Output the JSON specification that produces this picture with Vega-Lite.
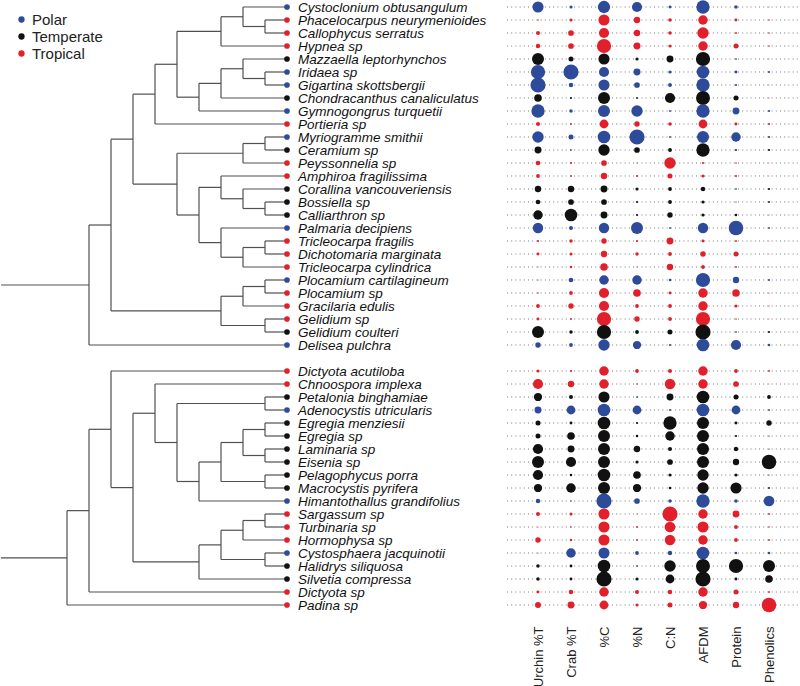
{
"$schema": "https://vega.github.io/schema/vega-lite/v6.json",
"background": "white",
"padding": 0,
"spacing": 0,
"config": {"view": {"stroke": null}, "font": "Liberation Sans"},
"resolve": {"scale": {"color": "independent", "y": "independent"}},
"datasets": {
"species": [
{"name":"Cystoclonium obtusangulum","region":"Polar","row":0,"Urchin %T":11.7,"Crab %T":3.3,"%C":13,"%N":10.7,"C:N":3,"AFDM":14,"Protein":3.7,"Phenolics":1},
{"name":"Phacelocarpus neurymenioides","region":"Tropical","row":1,"Urchin %T":1.7,"Crab %T":3.3,"%C":11.7,"%N":6.7,"C:N":3.7,"AFDM":10,"Protein":3,"Phenolics":1.7},
{"name":"Callophycus serratus","region":"Tropical","row":2,"Urchin %T":4.3,"Crab %T":6,"%C":10.7,"%N":6.7,"C:N":3.7,"AFDM":12,"Protein":2,"Phenolics":1.7},
{"name":"Hypnea sp","region":"Tropical","row":3,"Urchin %T":4.7,"Crab %T":6,"%C":15,"%N":7.3,"C:N":3.3,"AFDM":10,"Protein":5.3,"Phenolics":1.7},
{"name":"Mazzaella leptorhynchos","region":"Temperate","row":4,"Urchin %T":12.7,"Crab %T":5.3,"%C":11.7,"%N":3.3,"C:N":7.3,"AFDM":15,"Protein":1.7,"Phenolics":1},
{"name":"Iridaea sp","region":"Polar","row":5,"Urchin %T":15,"Crab %T":16,"%C":10.7,"%N":7.3,"C:N":3.3,"AFDM":13.3,"Protein":3,"Phenolics":2.3},
{"name":"Gigartina skottsbergii","region":"Polar","row":6,"Urchin %T":16,"Crab %T":4.7,"%C":11.7,"%N":6,"C:N":4,"AFDM":14,"Protein":2.3,"Phenolics":1},
{"name":"Chondracanthus canaliculatus","region":"Temperate","row":7,"Urchin %T":8,"Crab %T":2.3,"%C":12.7,"%N":2,"C:N":10.7,"AFDM":14.7,"Protein":5.3,"Phenolics":1},
{"name":"Gymnogongrus turquetii","region":"Polar","row":8,"Urchin %T":14,"Crab %T":3.7,"%C":12.7,"%N":12,"C:N":2,"AFDM":14,"Protein":7.3,"Phenolics":2.3},
{"name":"Portieria sp","region":"Tropical","row":9,"Urchin %T":4.3,"Crab %T":2,"%C":9.3,"%N":5.7,"C:N":3.7,"AFDM":9.3,"Protein":3,"Phenolics":2.3},
{"name":"Myriogramme smithii","region":"Polar","row":10,"Urchin %T":12,"Crab %T":5.3,"%C":13.3,"%N":16,"C:N":2,"AFDM":12.7,"Protein":10,"Phenolics":2.3},
{"name":"Ceramium sp","region":"Temperate","row":11,"Urchin %T":7.3,"Crab %T":1.7,"%C":12,"%N":6,"C:N":4,"AFDM":14,"Protein":2,"Phenolics":2.3},
{"name":"Peyssonnelia sp","region":"Tropical","row":12,"Urchin %T":5,"Crab %T":2.3,"%C":6,"%N":1.3,"C:N":12,"AFDM":2.3,"Protein":1.7,"Phenolics":1},
{"name":"Amphiroa fragilissima","region":"Tropical","row":13,"Urchin %T":4,"Crab %T":2,"%C":6.7,"%N":2.3,"C:N":5.3,"AFDM":3.3,"Protein":2.3,"Phenolics":1},
{"name":"Corallina vancouveriensis","region":"Temperate","row":14,"Urchin %T":6.7,"Crab %T":6.7,"%C":7.3,"%N":3.3,"C:N":4,"AFDM":4.7,"Protein":1.7,"Phenolics":2.3},
{"name":"Bossiella sp","region":"Temperate","row":15,"Urchin %T":5,"Crab %T":6,"%C":6,"%N":2.3,"C:N":4,"AFDM":3.3,"Protein":1.3,"Phenolics":2},
{"name":"Calliarthron sp","region":"Temperate","row":16,"Urchin %T":10,"Crab %T":13.3,"%C":7.3,"%N":2.3,"C:N":5.7,"AFDM":3.3,"Protein":2.7,"Phenolics":1},
{"name":"Palmaria decipiens","region":"Polar","row":17,"Urchin %T":11,"Crab %T":4.3,"%C":11,"%N":12.7,"C:N":2,"AFDM":11,"Protein":15.3,"Phenolics":2},
{"name":"Tricleocarpa fragilis","region":"Tropical","row":18,"Urchin %T":2.3,"Crab %T":3.7,"%C":5.7,"%N":2.3,"C:N":7.3,"AFDM":3,"Protein":2,"Phenolics":1},
{"name":"Dichotomaria marginata","region":"Tropical","row":19,"Urchin %T":3,"Crab %T":3.3,"%C":6.7,"%N":3.7,"C:N":4,"AFDM":5.7,"Protein":5.3,"Phenolics":1},
{"name":"Tricleocarpa cylindrica","region":"Tropical","row":20,"Urchin %T":1.3,"Crab %T":2.7,"%C":8,"%N":1.3,"C:N":6.7,"AFDM":4,"Protein":2,"Phenolics":1},
{"name":"Plocamium cartilagineum","region":"Polar","row":21,"Urchin %T":1.3,"Crab %T":5,"%C":10,"%N":10,"C:N":2.7,"AFDM":15,"Protein":6.7,"Phenolics":2.3},
{"name":"Plocamium sp","region":"Tropical","row":22,"Urchin %T":1.7,"Crab %T":4,"%C":10.7,"%N":8,"C:N":3,"AFDM":10,"Protein":8,"Phenolics":1.3},
{"name":"Gracilaria edulis","region":"Tropical","row":23,"Urchin %T":4,"Crab %T":5.7,"%C":10.7,"%N":4,"C:N":4,"AFDM":10,"Protein":3.3,"Phenolics":1.3},
{"name":"Gelidium sp","region":"Tropical","row":24,"Urchin %T":3,"Crab %T":2,"%C":15,"%N":5.7,"C:N":4,"AFDM":15,"Protein":1.7,"Phenolics":1},
{"name":"Gelidium coulteri","region":"Temperate","row":25,"Urchin %T":12.7,"Crab %T":3.7,"%C":15,"%N":4,"C:N":5.3,"AFDM":16,"Protein":1.7,"Phenolics":2.3},
{"name":"Delisea pulchra","region":"Polar","row":26,"Urchin %T":5.7,"Crab %T":4,"%C":12,"%N":8.7,"C:N":2.3,"AFDM":13.3,"Protein":10.7,"Phenolics":2.7},
{"name":"Dictyota acutiloba","region":"Tropical","row":28,"Urchin %T":3.3,"Crab %T":2.3,"%C":10,"%N":4,"C:N":4.3,"AFDM":10,"Protein":4,"Phenolics":2},
{"name":"Chnoospora implexa","region":"Tropical","row":29,"Urchin %T":10.7,"Crab %T":6.7,"%C":10,"%N":1.7,"C:N":11,"AFDM":10,"Protein":6,"Phenolics":1},
{"name":"Petalonia binghamiae","region":"Temperate","row":30,"Urchin %T":8.7,"Crab %T":4.3,"%C":11.7,"%N":1.7,"C:N":7.3,"AFDM":13.3,"Protein":5.3,"Phenolics":4},
{"name":"Adenocystis utricularis","region":"Polar","row":31,"Urchin %T":7.3,"Crab %T":9.3,"%C":13.3,"%N":9.3,"C:N":2.3,"AFDM":13.3,"Protein":9.3,"Phenolics":2},
{"name":"Egregia menziesii","region":"Temperate","row":32,"Urchin %T":5.3,"Crab %T":3,"%C":13.3,"%N":2.3,"C:N":14,"AFDM":12.7,"Protein":3,"Phenolics":5.7},
{"name":"Egregia sp","region":"Temperate","row":33,"Urchin %T":5.3,"Crab %T":8,"%C":12.7,"%N":2.7,"C:N":10,"AFDM":12.7,"Protein":2.3,"Phenolics":1.3},
{"name":"Laminaria sp","region":"Temperate","row":34,"Urchin %T":10.7,"Crab %T":7.3,"%C":12.7,"%N":6.7,"C:N":4.3,"AFDM":12.7,"Protein":4.7,"Phenolics":1.3},
{"name":"Eisenia sp","region":"Temperate","row":35,"Urchin %T":12.7,"Crab %T":10.7,"%C":12.7,"%N":3.3,"C:N":6,"AFDM":12.7,"Protein":6.7,"Phenolics":15.3},
{"name":"Pelagophycus porra","region":"Temperate","row":36,"Urchin %T":10.7,"Crab %T":2.7,"%C":13.3,"%N":8,"C:N":3.3,"AFDM":12,"Protein":3.3,"Phenolics":1.3},
{"name":"Macrocystis pyrifera","region":"Temperate","row":37,"Urchin %T":8.7,"Crab %T":10,"%C":12.7,"%N":8.7,"C:N":2.7,"AFDM":12,"Protein":11.7,"Phenolics":2},
{"name":"Himantothallus grandifolius","region":"Polar","row":38,"Urchin %T":4.7,"Crab %T":1.7,"%C":16,"%N":6,"C:N":3.7,"AFDM":14,"Protein":3.7,"Phenolics":11.3},
{"name":"Sargassum sp","region":"Tropical","row":39,"Urchin %T":4.3,"Crab %T":3.3,"%C":11.7,"%N":1.3,"C:N":16,"AFDM":10,"Protein":7.3,"Phenolics":2},
{"name":"Turbinaria sp","region":"Tropical","row":40,"Urchin %T":1.3,"Crab %T":1.7,"%C":11.7,"%N":2,"C:N":11.3,"AFDM":11.7,"Protein":4,"Phenolics":1.7},
{"name":"Hormophysa sp","region":"Tropical","row":41,"Urchin %T":5.7,"Crab %T":2.7,"%C":11.7,"%N":2,"C:N":11,"AFDM":10,"Protein":4,"Phenolics":2},
{"name":"Cystosphaera jacquinotii","region":"Polar","row":42,"Urchin %T":1.3,"Crab %T":10,"%C":11.7,"%N":4,"C:N":4.7,"AFDM":13.3,"Protein":2.7,"Phenolics":2.7},
{"name":"Halidrys siliquosa","region":"Temperate","row":43,"Urchin %T":3.7,"Crab %T":3,"%C":13.3,"%N":1.7,"C:N":12,"AFDM":14.7,"Protein":15,"Phenolics":12.7},
{"name":"Silvetia compressa","region":"Temperate","row":44,"Urchin %T":3.7,"Crab %T":3,"%C":16,"%N":3.3,"C:N":9.3,"AFDM":16,"Protein":3,"Phenolics":8},
{"name":"Dictyota sp","region":"Tropical","row":45,"Urchin %T":3,"Crab %T":4.7,"%C":10,"%N":4.3,"C:N":4.7,"AFDM":10,"Protein":5.3,"Phenolics":2},
{"name":"Padina sp","region":"Tropical","row":46,"Urchin %T":6.3,"Crab %T":7.3,"%C":9.3,"%N":3.3,"C:N":5.3,"AFDM":8.7,"Protein":6.7,"Phenolics":15.3}
],
"tree": [
{"x0":8,"x1":8,"y0":1,"y1":2},{"x0":8,"x1":9,"y0":1,"y1":1},{"x0":8,"x1":9,"y0":2,"y1":2},
{"x0":7,"x1":7,"y0":0,"y1":1.5},{"x0":7,"x1":9,"y0":0,"y1":0},{"x0":7,"x1":8,"y0":1.5,"y1":1.5},
{"x0":6,"x1":6,"y0":0.75,"y1":3},{"x0":6,"x1":7,"y0":0.75,"y1":0.75},{"x0":6,"x1":9,"y0":3,"y1":3},
{"x0":8,"x1":8,"y0":5,"y1":6},{"x0":8,"x1":9,"y0":5,"y1":5},{"x0":8,"x1":9,"y0":6,"y1":6},
{"x0":7,"x1":7,"y0":4,"y1":5.5},{"x0":7,"x1":9,"y0":4,"y1":4},{"x0":7,"x1":8,"y0":5.5,"y1":5.5},
{"x0":6,"x1":6,"y0":4.75,"y1":7},{"x0":6,"x1":7,"y0":4.75,"y1":4.75},{"x0":6,"x1":9,"y0":7,"y1":7},
{"x0":5,"x1":5,"y0":5.875,"y1":8},{"x0":5,"x1":6,"y0":5.875,"y1":5.875},{"x0":5,"x1":9,"y0":8,"y1":8},
{"x0":4,"x1":4,"y0":1.875,"y1":6.9375},{"x0":4,"x1":6,"y0":1.875,"y1":1.875},{"x0":4,"x1":5,"y0":6.9375,"y1":6.9375},
{"x0":3,"x1":3,"y0":4.406,"y1":9},{"x0":3,"x1":4,"y0":4.406,"y1":4.406},{"x0":3,"x1":9,"y0":9,"y1":9},
{"x0":8,"x1":8,"y0":10,"y1":11},{"x0":8,"x1":9,"y0":10,"y1":10},{"x0":8,"x1":9,"y0":11,"y1":11},
{"x0":7,"x1":7,"y0":10.5,"y1":12},{"x0":7,"x1":8,"y0":10.5,"y1":10.5},{"x0":7,"x1":9,"y0":12,"y1":12},
{"x0":8,"x1":8,"y0":15,"y1":16},{"x0":8,"x1":9,"y0":15,"y1":15},{"x0":8,"x1":9,"y0":16,"y1":16},
{"x0":7,"x1":7,"y0":14,"y1":15.5},{"x0":7,"x1":9,"y0":14,"y1":14},{"x0":7,"x1":8,"y0":15.5,"y1":15.5},
{"x0":6,"x1":6,"y0":13,"y1":14.75},{"x0":6,"x1":9,"y0":13,"y1":13},{"x0":6,"x1":7,"y0":14.75,"y1":14.75},
{"x0":8,"x1":8,"y0":18,"y1":19},{"x0":8,"x1":9,"y0":18,"y1":18},{"x0":8,"x1":9,"y0":19,"y1":19},
{"x0":7,"x1":7,"y0":18.5,"y1":20},{"x0":7,"x1":8,"y0":18.5,"y1":18.5},{"x0":7,"x1":9,"y0":20,"y1":20},
{"x0":6,"x1":6,"y0":17,"y1":19.25},{"x0":6,"x1":9,"y0":17,"y1":17},{"x0":6,"x1":7,"y0":19.25,"y1":19.25},
{"x0":5,"x1":5,"y0":13.875,"y1":18.125},{"x0":5,"x1":6,"y0":13.875,"y1":13.875},{"x0":5,"x1":6,"y0":18.125,"y1":18.125},
{"x0":4,"x1":4,"y0":11.25,"y1":16},{"x0":4,"x1":7,"y0":11.25,"y1":11.25},{"x0":4,"x1":5,"y0":16,"y1":16},
{"x0":2,"x1":2,"y0":6.703,"y1":13.625},{"x0":2,"x1":3,"y0":6.703,"y1":6.703},{"x0":2,"x1":4,"y0":13.625,"y1":13.625},
{"x0":8,"x1":8,"y0":21,"y1":22},{"x0":8,"x1":9,"y0":21,"y1":21},{"x0":8,"x1":9,"y0":22,"y1":22},
{"x0":7,"x1":7,"y0":21.5,"y1":23},{"x0":7,"x1":8,"y0":21.5,"y1":21.5},{"x0":7,"x1":9,"y0":23,"y1":23},
{"x0":8,"x1":8,"y0":24,"y1":25},{"x0":8,"x1":9,"y0":24,"y1":24},{"x0":8,"x1":9,"y0":25,"y1":25},
{"x0":6,"x1":6,"y0":22.25,"y1":24.5},{"x0":6,"x1":7,"y0":22.25,"y1":22.25},{"x0":6,"x1":8,"y0":24.5,"y1":24.5},
{"x0":1,"x1":1,"y0":10.164,"y1":23.375},{"x0":1,"x1":2,"y0":10.164,"y1":10.164},{"x0":1,"x1":6,"y0":23.375,"y1":23.375},
{"x0":0,"x1":0,"y0":16.77,"y1":26},{"x0":0,"x1":1,"y0":16.77,"y1":16.77},{"x0":0,"x1":9,"y0":26,"y1":26},
{"x0":-4,"x1":0,"y0":21.385,"y1":21.385},
{"x0":8,"x1":8,"y0":30,"y1":31},{"x0":8,"x1":9,"y0":30,"y1":30},{"x0":8,"x1":9,"y0":31,"y1":31},
{"x0":8,"x1":8,"y0":32,"y1":33},{"x0":8,"x1":9,"y0":32,"y1":32},{"x0":8,"x1":9,"y0":33,"y1":33},
{"x0":8,"x1":8,"y0":34,"y1":35},{"x0":8,"x1":9,"y0":34,"y1":34},{"x0":8,"x1":9,"y0":35,"y1":35},
{"x0":7,"x1":7,"y0":32.5,"y1":34.5},{"x0":7,"x1":8,"y0":32.5,"y1":32.5},{"x0":7,"x1":8,"y0":34.5,"y1":34.5},
{"x0":8,"x1":8,"y0":36,"y1":37},{"x0":8,"x1":9,"y0":36,"y1":36},{"x0":8,"x1":9,"y0":37,"y1":37},
{"x0":6,"x1":6,"y0":33.5,"y1":36.5},{"x0":6,"x1":7,"y0":33.5,"y1":33.5},{"x0":6,"x1":8,"y0":36.5,"y1":36.5},
{"x0":5,"x1":5,"y0":35,"y1":38},{"x0":5,"x1":6,"y0":35,"y1":35},{"x0":5,"x1":9,"y0":38,"y1":38},
{"x0":4,"x1":4,"y0":30.5,"y1":36.5},{"x0":4,"x1":8,"y0":30.5,"y1":30.5},{"x0":4,"x1":5,"y0":36.5,"y1":36.5},
{"x0":3,"x1":3,"y0":29,"y1":33.5},{"x0":3,"x1":9,"y0":29,"y1":29},{"x0":3,"x1":4,"y0":33.5,"y1":33.5},
{"x0":8,"x1":8,"y0":39,"y1":40},{"x0":8,"x1":9,"y0":39,"y1":39},{"x0":8,"x1":9,"y0":40,"y1":40},
{"x0":7,"x1":7,"y0":39.5,"y1":41},{"x0":7,"x1":8,"y0":39.5,"y1":39.5},{"x0":7,"x1":9,"y0":41,"y1":41},
{"x0":8,"x1":8,"y0":42,"y1":43},{"x0":8,"x1":9,"y0":42,"y1":42},{"x0":8,"x1":9,"y0":43,"y1":43},
{"x0":6,"x1":6,"y0":40.25,"y1":42.5},{"x0":6,"x1":7,"y0":40.25,"y1":40.25},{"x0":6,"x1":8,"y0":42.5,"y1":42.5},
{"x0":5,"x1":5,"y0":41.375,"y1":44},{"x0":5,"x1":6,"y0":41.375,"y1":41.375},{"x0":5,"x1":9,"y0":44,"y1":44},
{"x0":2,"x1":2,"y0":31.25,"y1":42.688},{"x0":2,"x1":3,"y0":31.25,"y1":31.25},{"x0":2,"x1":5,"y0":42.688,"y1":42.688},
{"x0":1,"x1":1,"y0":28,"y1":36.969},{"x0":1,"x1":9,"y0":28,"y1":28},{"x0":1,"x1":2,"y0":36.969,"y1":36.969},
{"x0":0,"x1":0,"y0":32.484,"y1":45},{"x0":0,"x1":1,"y0":32.484,"y1":32.484},{"x0":0,"x1":9,"y0":45,"y1":45},
{"x0":-1,"x1":-1,"y0":38.742,"y1":46},{"x0":-1,"x1":0,"y0":38.742,"y1":38.742},{"x0":-1,"x1":9,"y0":46,"y1":46},
{"x0":-4,"x1":-1,"y0":42.371,"y1":42.371}
]
},
"hconcat": [
{
"width": 503,
"height": 610,
"layer": [
{"data": {"name": "tree"},
 "mark": {"type": "rule", "color": "#505050", "strokeWidth": 1.2},
 "encoding": {
  "x": {"field": "x0", "type": "quantitative", "scale": {"domain": [-4, 18.864], "nice": false, "zero": false}, "axis": null},
  "x2": {"field": "x1"},
  "y": {"field": "y0", "type": "quantitative", "scale": {"domain": [-0.4615, 46.4615], "nice": false, "zero": false, "reverse": true}, "axis": null},
  "y2": {"field": "y1"}
 }},
{"data": {"name": "species"},
 "mark": {"type": "point", "filled": true, "size": 32, "opacity": 1},
 "encoding": {
  "x": {"datum": 9, "type": "quantitative"},
  "y": {"field": "row", "type": "quantitative"},
  "color": {"field": "region", "type": "nominal",
   "scale": {"domain": ["Polar", "Temperate", "Tropical"], "range": ["#2E4A9B", "#111111", "#E2202B"]},
   "legend": {"title": null, "orient": "none", "legendX": 13, "legendY": 11, "padding": 0, "symbolType": "circle", "symbolSize": 40, "symbolStrokeWidth": 0, "labelFontSize": 15, "labelColor": "#222222", "labelOffset": 3, "rowPadding": 1, "labelFont": "Liberation Sans"}}
 }},
{"data": {"name": "species"},
 "mark": {"type": "text", "align": "left", "baseline": "middle", "dx": 11, "dy": 1, "fontSize": 13.5, "fontStyle": "italic", "color": "#111111", "font": "Liberation Sans"},
 "encoding": {
  "x": {"datum": 9, "type": "quantitative"},
  "y": {"field": "row", "type": "quantitative"},
  "text": {"field": "name"}
 }}
]
},
{
"width": 297,
"height": 610,
"data": {"name": "species"},
"layer": [
{"mark": {"type": "rule", "color": "#7a7a7a", "strokeDash": [1, 3.2], "strokeWidth": 1},
 "encoding": {
  "y": {"field": "row", "type": "quantitative", "scale": {"domain": [-0.4615, 46.4615], "nice": false, "zero": false, "reverse": true}, "axis": null}
 }},
{"transform": [{"fold": ["Urchin %T", "Crab %T", "%C", "%N", "C:N", "AFDM", "Protein", "Phenolics"], "as": ["trait", "value"]}],
 "mark": {"type": "circle", "opacity": 1},
 "encoding": {
  "x": {"field": "trait", "type": "nominal", "sort": ["Urchin %T", "Crab %T", "%C", "%N", "C:N", "AFDM", "Protein", "Phenolics"],
   "scale": {"type": "point", "padding": 1},
   "axis": {"title": null, "labelAngle": -90, "ticks": false, "domain": false, "grid": false, "labelPadding": 15, "labelFontSize": 13, "labelColor": "#222222", "labelFont": "Liberation Sans"}},
  "y": {"field": "row", "type": "quantitative"},
  "size": {"field": "value", "type": "quantitative", "scale": {"type": "pow", "exponent": 2, "domain": [0, 16], "range": [0, 230]}, "legend": null},
  "color": {"field": "region", "type": "nominal", "scale": {"domain": ["Polar", "Temperate", "Tropical"], "range": ["#2E4A9B", "#111111", "#E2202B"]}, "legend": null}
 }}
]
}
]
}
